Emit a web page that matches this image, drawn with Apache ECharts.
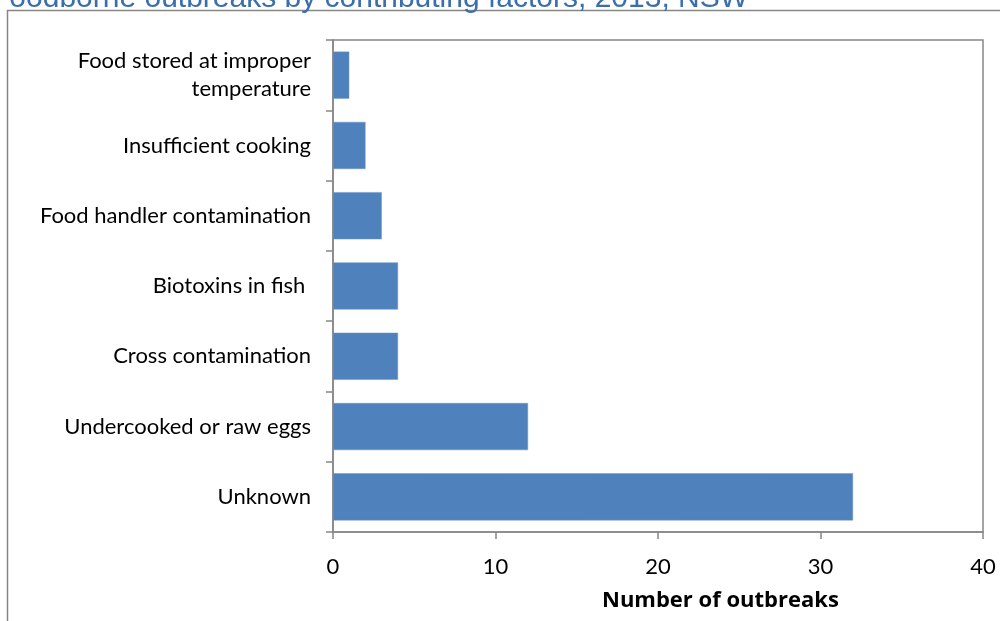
<!DOCTYPE html>
<html>
<head>
<meta charset="utf-8">
<script src="https://cdn.jsdelivr.net/npm/echarts@6/dist/echarts.min.js"></script>
<style>
  html, body { margin: 0; padding: 0; background: #fff; }
  #chart { width: 1000px; height: 621px; }
</style>
</head>
<body>
<div id="chart"></div>
<script>
// Contributing factors, listed bottom-to-top as drawn on the category axis
const factors = [
  'Unknown',
  'Undercooked or raw eggs',
  'Cross contamination',
  'Biotoxins in fish ',
  'Food handler contamination',
  'Insufficient cooking',
  'Food stored at improper\ntemperature'
];
const outbreaks = [32, 12, 4, 4, 3, 2, 1];
const xTicks = [0, 10, 20, 30, 40];

const titleText = 'Foodborne outbreaks by contributing factors, 2013, NSW';
const xAxisTitle = 'Number of outbreaks';

const font = 'Lato, "Open Sans", sans-serif';
const axisGrey = '#868686';

const chart = echarts.init(document.getElementById('chart'), null, { renderer: 'canvas' });
chart.setOption({
  animation: false,
  backgroundColor: '#ffffff',
  title: {
    text: titleText,
    left: -14,
    top: -21,
    textStyle: { color: '#3A6EAC', fontSize: 30, fontWeight: 'normal', fontFamily: 'Arial, "Liberation Sans", sans-serif' }
  },
  grid: {
    left: 333, right: 17, top: 40, bottom: 89,
    show: true, borderColor: axisGrey, borderWidth: 1.5, backgroundColor: 'transparent'
  },
  xAxis: {
    type: 'value',
    min: xTicks[0],
    max: xTicks[xTicks.length - 1],
    interval: xTicks[1] - xTicks[0],
    axisLine: { show: true, lineStyle: { color: axisGrey, width: 1.5 } },
    axisTick: { show: true, length: 7, lineStyle: { color: axisGrey, width: 1.5 } },
    splitLine: { show: false },
    axisLabel: { color: '#000', fontSize: 22, fontFamily: font, margin: 24 }
  },
  yAxis: {
    type: 'category',
    data: factors,
    axisLine: { show: true, lineStyle: { color: axisGrey, width: 1.5 } },
    axisTick: { show: true, length: 7, alignWithLabel: false, lineStyle: { color: axisGrey, width: 1.5 } },
    axisLabel: { color: '#000', fontSize: 22, fontFamily: font, margin: 22, align: 'right', lineHeight: 28 }
  },
  series: [{
    type: 'bar',
    data: outbreaks,
    barCategoryGap: '33%',
    itemStyle: { color: '#4F81BD', borderColor: '#6a95c8', borderWidth: 0.5 }
  }],
  graphic: [
    // outer chart frame (left and top edges)
    { type: 'polyline', shape: { points: [[7.5, 621], [7.5, 10.5], [1000, 10.5]] },
      style: { stroke: axisGrey, lineWidth: 1.5, fill: null } },
    { type: 'text', left: 602, top: 590,
      style: { text: xAxisTitle, fill: '#000', font: 'bold 22px "Open Sans", Lato, sans-serif' } }
  ]
});
</script>
</body>
</html>
